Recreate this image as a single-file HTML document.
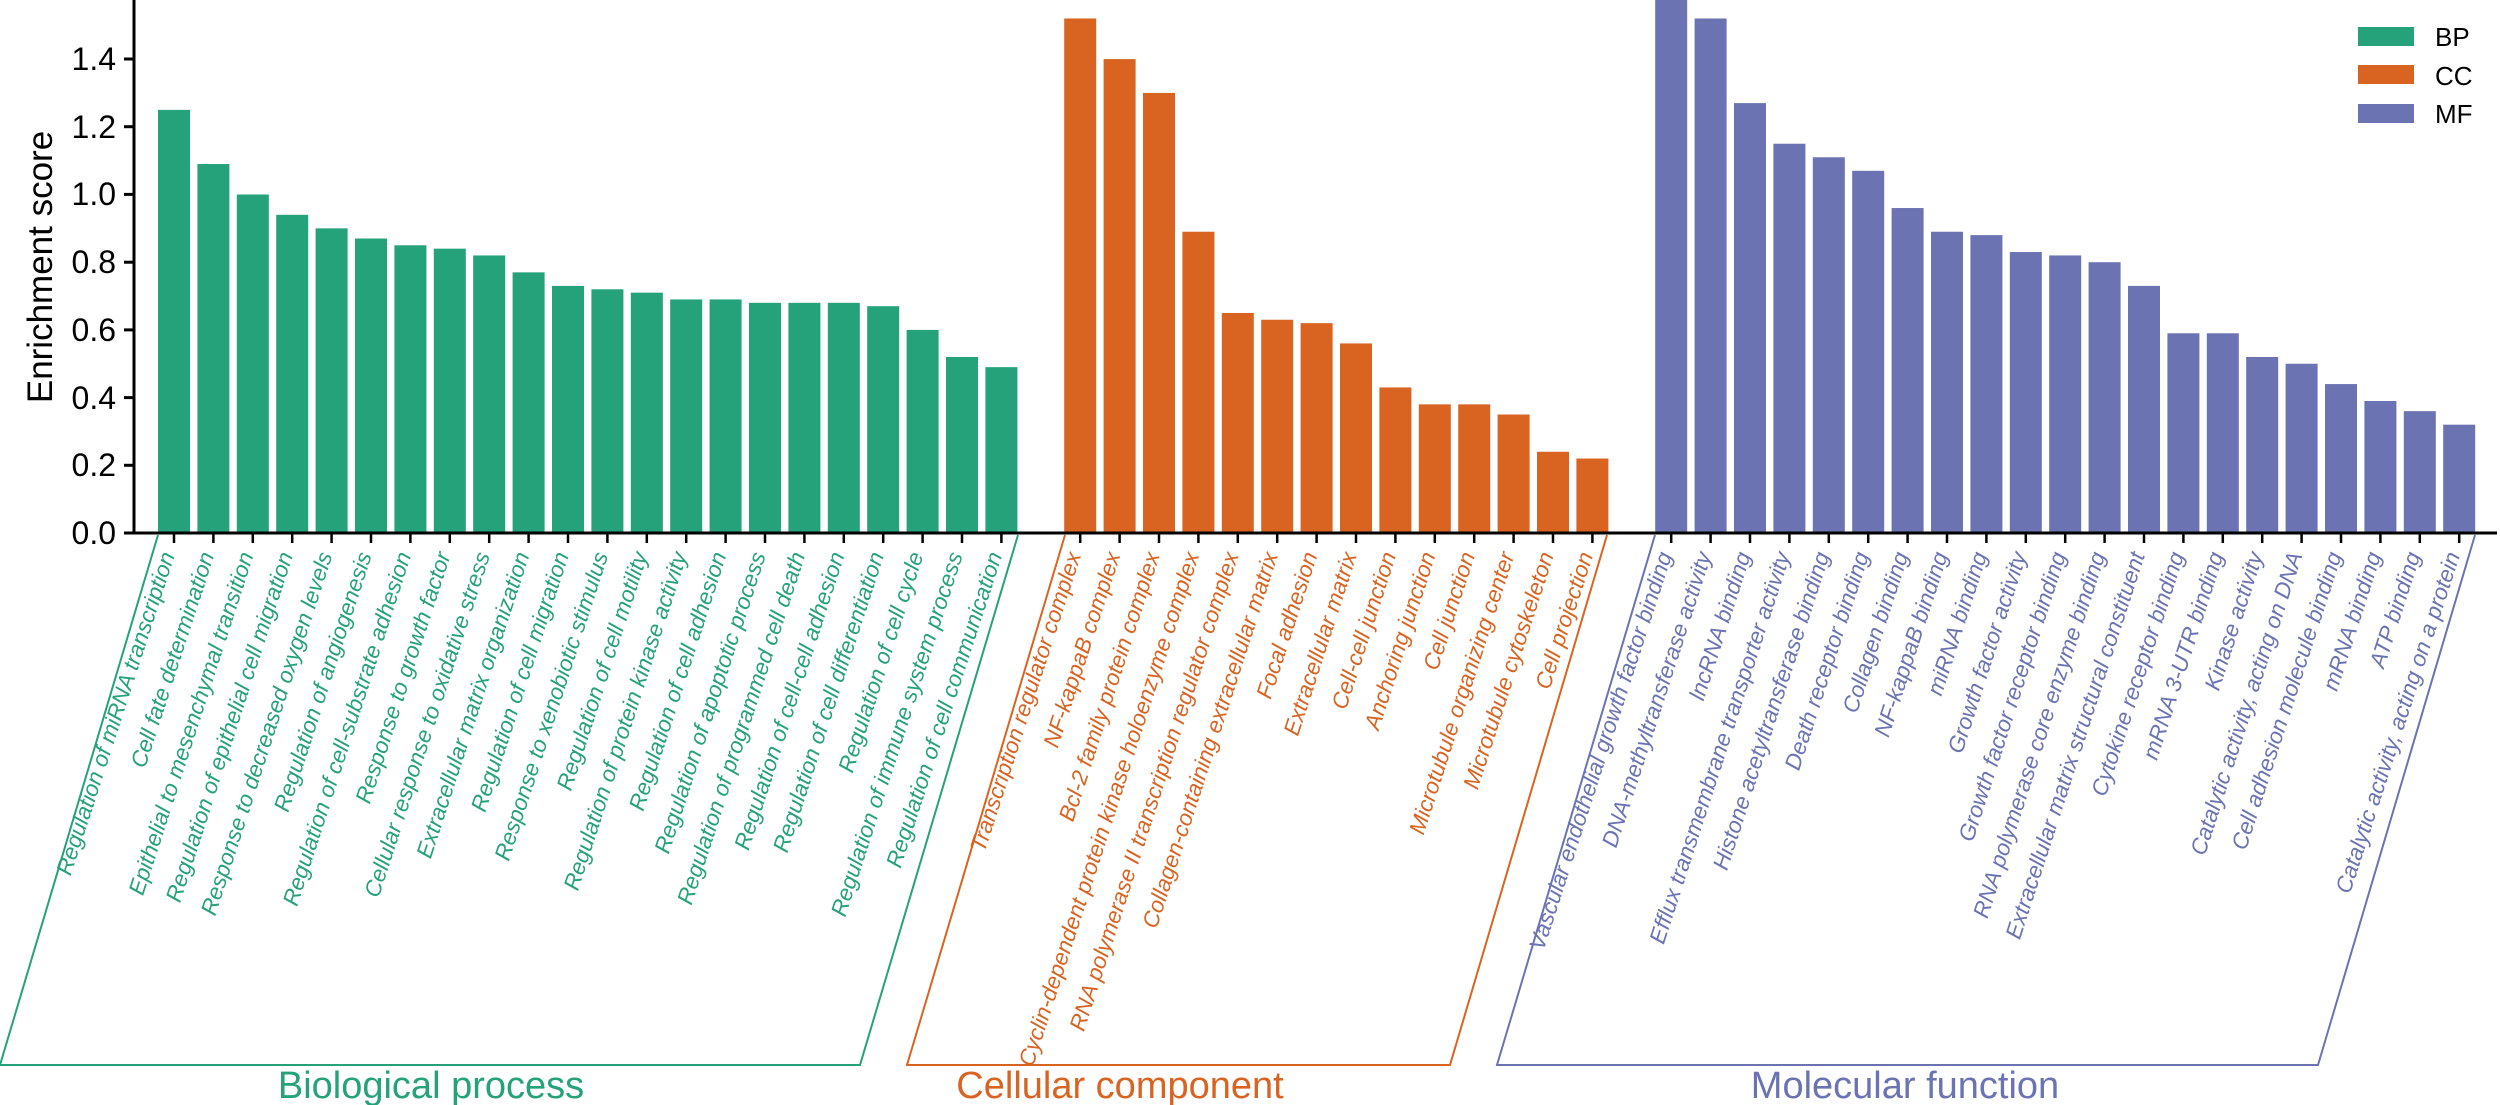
<!DOCTYPE html>
<html><head><meta charset="utf-8"><style>
html,body{margin:0;padding:0;background:#fff;}
svg{display:block;}
text{font-family:"Liberation Sans",Arial,sans-serif;}
.l{font-size:22.5px;font-style:italic;text-anchor:end;}
.g{fill:#25a27a;} .o{fill:#d96422;} .p{fill:#6b73b2;}
</style></head><body>
<svg width="2500" height="1105" viewBox="0 0 2500 1105" xmlns="http://www.w3.org/2000/svg">
<g transform="translate(0,533) scale(1,-338.5)">
<g fill="#25a27a">
<rect x="158" y="0" width="32" height="1.25"/>
<rect x="197.4" y="0" width="32" height="1.09"/>
<rect x="236.8" y="0" width="32" height="1.00"/>
<rect x="276.2" y="0" width="32" height="0.94"/>
<rect x="315.6" y="0" width="32" height="0.90"/>
<rect x="355" y="0" width="32" height="0.87"/>
<rect x="394.4" y="0" width="32" height="0.85"/>
<rect x="433.8" y="0" width="32" height="0.84"/>
<rect x="473.2" y="0" width="32" height="0.82"/>
<rect x="512.6" y="0" width="32" height="0.77"/>
<rect x="552" y="0" width="32" height="0.73"/>
<rect x="591.4" y="0" width="32" height="0.72"/>
<rect x="630.8" y="0" width="32" height="0.71"/>
<rect x="670.2" y="0" width="32" height="0.69"/>
<rect x="709.6" y="0" width="32" height="0.69"/>
<rect x="749" y="0" width="32" height="0.68"/>
<rect x="788.4" y="0" width="32" height="0.68"/>
<rect x="827.8" y="0" width="32" height="0.68"/>
<rect x="867.2" y="0" width="32" height="0.67"/>
<rect x="906.6" y="0" width="32" height="0.60"/>
<rect x="946" y="0" width="32" height="0.52"/>
<rect x="985.4" y="0" width="32" height="0.49"/>
</g>
<g fill="#d96422">
<rect x="1064.2" y="0" width="32" height="1.52"/>
<rect x="1103.6" y="0" width="32" height="1.40"/>
<rect x="1143" y="0" width="32" height="1.30"/>
<rect x="1182.4" y="0" width="32" height="0.89"/>
<rect x="1221.8" y="0" width="32" height="0.65"/>
<rect x="1261.2" y="0" width="32" height="0.63"/>
<rect x="1300.6" y="0" width="32" height="0.62"/>
<rect x="1340" y="0" width="32" height="0.56"/>
<rect x="1379.4" y="0" width="32" height="0.43"/>
<rect x="1418.8" y="0" width="32" height="0.38"/>
<rect x="1458.2" y="0" width="32" height="0.38"/>
<rect x="1497.6" y="0" width="32" height="0.35"/>
<rect x="1537" y="0" width="32" height="0.24"/>
<rect x="1576.4" y="0" width="32" height="0.22"/>
</g>
<g fill="#6b73b2">
<rect x="1655.2" y="0" width="32" height="1.58"/>
<rect x="1694.6" y="0" width="32" height="1.52"/>
<rect x="1734" y="0" width="32" height="1.27"/>
<rect x="1773.4" y="0" width="32" height="1.15"/>
<rect x="1812.8" y="0" width="32" height="1.11"/>
<rect x="1852.2" y="0" width="32" height="1.07"/>
<rect x="1891.6" y="0" width="32" height="0.96"/>
<rect x="1931" y="0" width="32" height="0.89"/>
<rect x="1970.4" y="0" width="32" height="0.88"/>
<rect x="2009.8" y="0" width="32" height="0.83"/>
<rect x="2049.2" y="0" width="32" height="0.82"/>
<rect x="2088.6" y="0" width="32" height="0.80"/>
<rect x="2128" y="0" width="32" height="0.73"/>
<rect x="2167.4" y="0" width="32" height="0.59"/>
<rect x="2206.8" y="0" width="32" height="0.59"/>
<rect x="2246.2" y="0" width="32" height="0.52"/>
<rect x="2285.6" y="0" width="32" height="0.50"/>
<rect x="2325" y="0" width="32" height="0.44"/>
<rect x="2364.4" y="0" width="32" height="0.39"/>
<rect x="2403.8" y="0" width="32" height="0.36"/>
<rect x="2443.2" y="0" width="32" height="0.32"/>
</g>
</g>
<g stroke="#000" stroke-width="3" fill="none">
<line x1="134" y1="0" x2="134" y2="534.5"/>
<line x1="124" y1="533" x2="2497" y2="533"/>
<line x1="124" y1="59" x2="134" y2="59"/>
<line x1="124" y1="126.7" x2="134" y2="126.7"/>
<line x1="124" y1="194.4" x2="134" y2="194.4"/>
<line x1="124" y1="262.2" x2="134" y2="262.2"/>
<line x1="124" y1="329.9" x2="134" y2="329.9"/>
<line x1="124" y1="397.6" x2="134" y2="397.6"/>
<line x1="124" y1="465.3" x2="134" y2="465.3"/>
</g>
<path stroke="#000" stroke-width="2.5" fill="none" d="M174 533v10M213.4 533v10M252.8 533v10M292.2 533v10M331.6 533v10M371 533v10M410.4 533v10M449.8 533v10M489.2 533v10M528.6 533v10M568 533v10M607.4 533v10M646.8 533v10M686.2 533v10M725.6 533v10M765 533v10M804.4 533v10M843.8 533v10M883.2 533v10M922.6 533v10M962 533v10M1001.4 533v10M1080.2 533v10M1119.6 533v10M1159 533v10M1198.4 533v10M1237.8 533v10M1277.2 533v10M1316.6 533v10M1356 533v10M1395.4 533v10M1434.8 533v10M1474.2 533v10M1513.6 533v10M1553 533v10M1592.4 533v10M1671.2 533v10M1710.6 533v10M1750 533v10M1789.4 533v10M1828.8 533v10M1868.2 533v10M1907.6 533v10M1947 533v10M1986.4 533v10M2025.8 533v10M2065.2 533v10M2104.6 533v10M2144 533v10M2183.4 533v10M2222.8 533v10M2262.2 533v10M2301.6 533v10M2341 533v10M2380.4 533v10M2419.8 533v10M2459.2 533v10"/>
<g font-size="32" text-anchor="end" fill="#000">
<text x="116" y="70">1.4</text>
<text x="116" y="138">1.2</text>
<text x="116" y="205">1.0</text>
<text x="116" y="273">0.8</text>
<text x="116" y="341">0.6</text>
<text x="116" y="409">0.4</text>
<text x="116" y="476">0.2</text>
<text x="116" y="544">0.0</text>
</g>
<text transform="translate(52,267) rotate(-90)" font-size="35" text-anchor="middle" fill="#000">Enrichment score</text>
<polyline points="158,535 0,1065 860,1065 1018,535" fill="none" stroke="#25a27a" stroke-width="2"/>
<polyline points="1065,535 907,1065 1450,1065 1607,535" fill="none" stroke="#d96422" stroke-width="2"/>
<polyline points="1655,535 1497,1065 2318,1065 2475,535" fill="none" stroke="#6b73b2" stroke-width="2"/>
<text x="431" y="1098" font-size="38" text-anchor="middle" class="g">Biological process</text>
<text x="1120" y="1098" font-size="38" text-anchor="middle" class="o">Cellular component</text>
<text x="1905" y="1098" font-size="38" text-anchor="middle" class="p">Molecular function</text>
<rect x="2358" y="27" width="56" height="19" fill="#25a27a"/>
<rect x="2358" y="65" width="56" height="19" fill="#d96422"/>
<rect x="2358" y="104" width="56" height="19" fill="#6b73b2"/>
<g font-size="26" fill="#000">
<text x="2435" y="46">BP</text>
<text x="2435" y="85">CC</text>
<text x="2435" y="123">MF</text>
</g>
<g class="l g">
<text transform="translate(175,555) rotate(-72)">Regulation of miRNA transcription</text>
<text transform="translate(214.4,555) rotate(-72)">Cell fate determination</text>
<text transform="translate(253.8,555) rotate(-72)">Epithelial to mesenchymal transition</text>
<text transform="translate(293.2,555) rotate(-72)">Regulation of epithelial cell migration</text>
<text transform="translate(332.6,555) rotate(-72)">Response to decreased oxygen levels</text>
<text transform="translate(372,555) rotate(-72)">Regulation of angiogenesis</text>
<text transform="translate(411.4,555) rotate(-72)">Regulation of cell-substrate adhesion</text>
<text transform="translate(450.8,555) rotate(-72)">Response to growth factor</text>
<text transform="translate(490.2,555) rotate(-72)">Cellular response to oxidative stress</text>
<text transform="translate(529.6,555) rotate(-72)">Extracellular matrix organization</text>
<text transform="translate(569,555) rotate(-72)">Regulation of cell migration</text>
<text transform="translate(608.4,555) rotate(-72)">Response to xenobiotic stimulus</text>
<text transform="translate(647.8,555) rotate(-72)">Regulation of cell motility</text>
<text transform="translate(687.2,555) rotate(-72)">Regulation of protein kinase activity</text>
<text transform="translate(726.6,555) rotate(-72)">Regulation of cell adhesion</text>
<text transform="translate(766,555) rotate(-72)">Regulation of apoptotic process</text>
<text transform="translate(805.4,555) rotate(-72)">Regulation of programmed cell death</text>
<text transform="translate(844.8,555) rotate(-72)">Regulation of cell-cell adhesion</text>
<text transform="translate(884.2,555) rotate(-72)">Regulation of cell differentiation</text>
<text transform="translate(923.6,555) rotate(-72)">Regulation of cell cycle</text>
<text transform="translate(963,555) rotate(-72)">Regulation of immune system process</text>
<text transform="translate(1002.4,555) rotate(-72)">Regulation of cell communication</text>
</g>
<g class="l o">
<text transform="translate(1081.2,555) rotate(-72)">Transcription regulator complex</text>
<text transform="translate(1120.6,555) rotate(-72)">NF-kappaB complex</text>
<text transform="translate(1160,555) rotate(-72)">Bcl-2 family protein complex</text>
<text transform="translate(1199.4,555) rotate(-72)">Cyclin-dependent protein kinase holoenzyme complex</text>
<text transform="translate(1238.8,555) rotate(-72)">RNA polymerase II transcription regulator complex</text>
<text transform="translate(1278.2,555) rotate(-72)">Collagen-containing extracellular matrix</text>
<text transform="translate(1317.6,555) rotate(-72)">Focal adhesion</text>
<text transform="translate(1357,555) rotate(-72)">Extracellular matrix</text>
<text transform="translate(1396.4,555) rotate(-72)">Cell-cell junction</text>
<text transform="translate(1435.8,555) rotate(-72)">Anchoring junction</text>
<text transform="translate(1475.2,555) rotate(-72)">Cell junction</text>
<text transform="translate(1514.6,555) rotate(-72)">Microtubule organizing center</text>
<text transform="translate(1554,555) rotate(-72)">Microtubule cytoskeleton</text>
<text transform="translate(1593.4,555) rotate(-72)">Cell projection</text>
</g>
<g class="l p">
<text transform="translate(1672.2,555) rotate(-72)">Vascular endothelial growth factor binding</text>
<text transform="translate(1711.6,555) rotate(-72)">DNA-methyltransferase activity</text>
<text transform="translate(1751,555) rotate(-72)">lncRNA binding</text>
<text transform="translate(1790.4,555) rotate(-72)">Efflux transmembrane transporter activity</text>
<text transform="translate(1829.8,555) rotate(-72)">Histone acetyltransferase binding</text>
<text transform="translate(1869.2,555) rotate(-72)">Death receptor binding</text>
<text transform="translate(1908.6,555) rotate(-72)">Collagen binding</text>
<text transform="translate(1948,555) rotate(-72)">NF-kappaB binding</text>
<text transform="translate(1987.4,555) rotate(-72)">miRNA binding</text>
<text transform="translate(2026.8,555) rotate(-72)">Growth factor activity</text>
<text transform="translate(2066.2,555) rotate(-72)">Growth factor receptor binding</text>
<text transform="translate(2105.6,555) rotate(-72)">RNA polymerase core enzyme binding</text>
<text transform="translate(2145,555) rotate(-72)">Extracellular matrix structural constituent</text>
<text transform="translate(2184.4,555) rotate(-72)">Cytokine receptor binding</text>
<text transform="translate(2223.8,555) rotate(-72)">mRNA 3-UTR binding</text>
<text transform="translate(2263.2,555) rotate(-72)">Kinase activity</text>
<text transform="translate(2302.6,555) rotate(-72)">Catalytic activity, acting on DNA</text>
<text transform="translate(2342,555) rotate(-72)">Cell adhesion molecule binding</text>
<text transform="translate(2381.4,555) rotate(-72)">mRNA binding</text>
<text transform="translate(2420.8,555) rotate(-72)">ATP binding</text>
<text transform="translate(2460.2,555) rotate(-72)">Catalytic activity, acting on a protein</text>
</g>
</svg>
</body></html>
